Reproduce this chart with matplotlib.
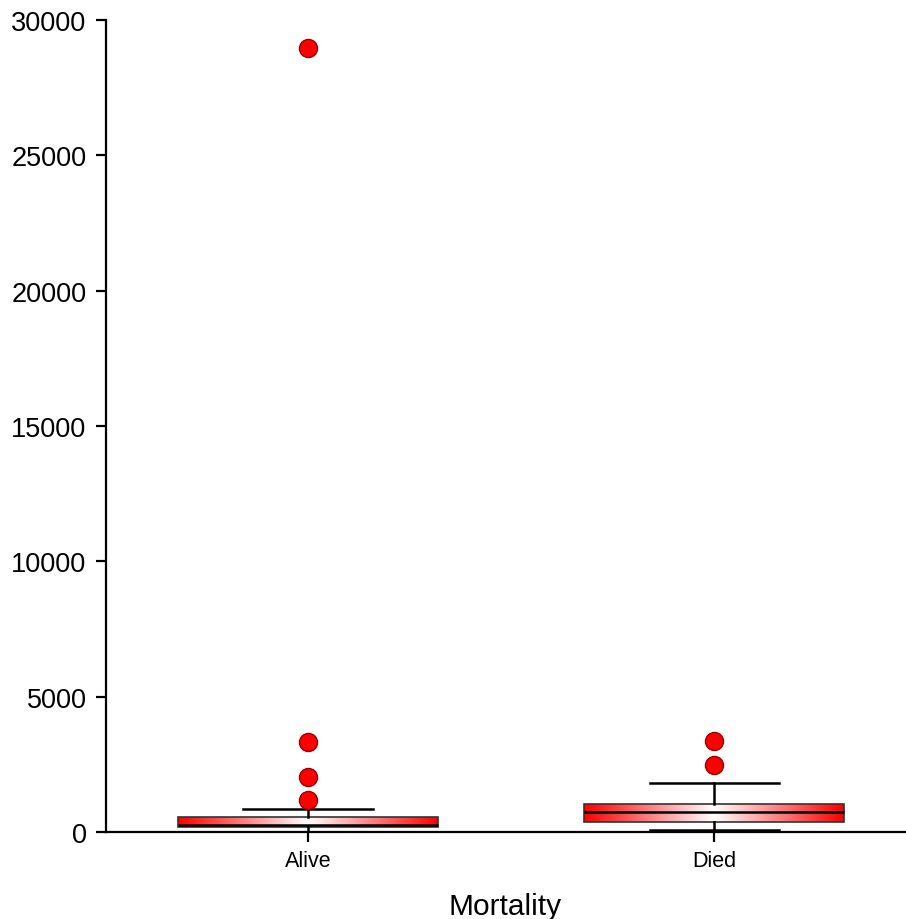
import numpy as np
import matplotlib.pyplot as plt
from matplotlib.colors import LinearSegmentedColormap

plt.rcParams['font.family'] = ['Liberation Sans', 'DejaVu Sans']

groups = ['Alive', 'Died']
q1 = [175, 360]
medians = [270, 740]
q3 = [565, 1035]
whisker_low = [5, 85]
whisker_high = [860, 1820]
fliers = [[1190, 2020, 3340, 28950], [2490, 3360]]

yticks = [0, 5000, 10000, 15000, 20000, 25000, 30000]

stats = []
for i, g in enumerate(groups):
    stats.append(dict(label=g, med=medians[i], q1=q1[i], q3=q3[i],
                      whislo=whisker_low[i], whishi=whisker_high[i],
                      fliers=fliers[i]))

fig = plt.figure(figsize=(9.06, 9.2), dpi=100)
ax = fig.add_axes([0.117, 0.0946, 0.882, 0.8826])

positions = [1, 2]
bp = ax.bxp(stats, positions=positions, widths=0.64, patch_artist=True,
            showfliers=True,
            boxprops=dict(facecolor='none', edgecolor='#333333', linewidth=1.2),
            medianprops=dict(color='black', linewidth=1.8),
            whiskerprops=dict(color='black', linewidth=1.8),
            capprops=dict(color='black', linewidth=1.8),
            capwidths=0.318,
            flierprops=dict(marker='o', markerfacecolor='red',
                            markeredgecolor='#990000', markersize=13,
                            markeredgewidth=1))

# red-white-red horizontal gradient inside each box
grad_cmap = LinearSegmentedColormap.from_list('rw', ['#ff0000', '#ffffff', '#ff0000'])
grad = np.linspace(0, 1, 256).reshape(1, -1)
for pos, box, lo, hi in zip(positions, bp['boxes'], q1, q3):
    im = ax.imshow(grad, cmap=grad_cmap, aspect='auto', interpolation='bilinear',
                   extent=[pos - 0.32, pos + 0.32, lo, hi], zorder=1.5)
    im.set_clip_path(box)

ax.set_xlim(0.5025, 2.47)
ax.set_ylim(0, 30000)
ax.set_yticks(yticks)
ax.set_yticklabels([str(t) for t in yticks], fontsize=19.5)
ax.set_xticks(positions)
ax.set_xticklabels(groups, fontsize=15.5)
ax.set_xlabel('Mortality', fontsize=21.5, labelpad=15)

for side in ['top', 'right']:
    ax.spines[side].set_visible(False)
for side in ['left', 'bottom']:
    ax.spines[side].set_linewidth(1.6)
ax.tick_params(axis='y', direction='out', length=7, width=1.6, pad=7)
ax.tick_params(axis='x', direction='out', length=7, width=1.6, pad=6)

fig.savefig('out.png', dpi=100)
